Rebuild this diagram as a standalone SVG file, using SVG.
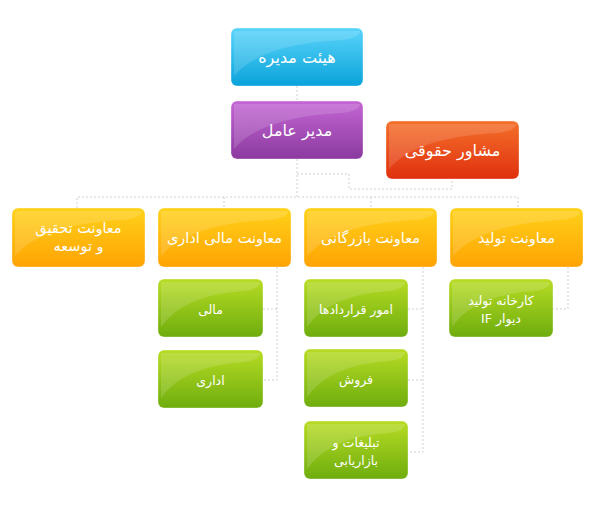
<svg xmlns="http://www.w3.org/2000/svg" width="603" height="515" viewBox="0 0 603 515">
<defs>
<linearGradient id="gBlue" x1="0" y1="0" x2="0" y2="1"><stop offset="0" stop-color="#5ad4fa"/><stop offset="1" stop-color="#0aa3db"/></linearGradient>
<linearGradient id="gPurple" x1="0" y1="0" x2="0" y2="1"><stop offset="0" stop-color="#c466d4"/><stop offset="1" stop-color="#8b3a9f"/></linearGradient>
<linearGradient id="gRed" x1="0" y1="0" x2="0" y2="1"><stop offset="0" stop-color="#f4702a"/><stop offset="1" stop-color="#e0300f"/></linearGradient>
<linearGradient id="gYellow" x1="0" y1="0" x2="0" y2="1"><stop offset="0" stop-color="#ffd21a"/><stop offset="1" stop-color="#ffa303"/></linearGradient>
<linearGradient id="gGreen" x1="0" y1="0" x2="0" y2="1"><stop offset="0" stop-color="#b8dc24"/><stop offset="1" stop-color="#6ead0e"/></linearGradient>
</defs>
<style>
.box{stroke:#ffffff;stroke-opacity:.35;stroke-width:1}
.gloss{fill:#ffffff;fill-opacity:.14}
.t{font-family:"DejaVu Sans",sans-serif;fill:#ffffff;text-anchor:middle;direction:rtl}
.top{font-size:16px}
.big{font-size:14.5px}
.sm{font-size:12.5px}
.c{fill:none;stroke:#cfcfcf;stroke-width:1;stroke-dasharray:2,2}
</style>
<g id="connectors">
<path class="c" d="M297,86V101"/>
<path class="c" d="M297,159V197"/>
<path class="c" d="M297,174H349V189H452V179"/>
<path class="c" d="M77,208V197H518V208"/>
<path class="c" d="M224,197V208"/>
<path class="c" d="M371,197V208"/>
<path class="c" d="M277,267V380H263M263,309H277"/>
<path class="c" d="M423,267V452H408M408,309H423M408,380H423"/>
<path class="c" d="M568,267V309H553"/>
</g>
<g id="board" transform="translate(231,28)">
<rect class="box" width="132" height="58" rx="6" fill="url(#gBlue)"/>
<path class="gloss" d="M3,3H129Q129,10 110,12Q30,16 3,48Z"/>
<text class="t top" x="66" y="35">هیئت مدیره</text>
</g>
<g id="ceo" transform="translate(231,101)">
<rect class="box" width="132" height="58" rx="6" fill="url(#gPurple)"/>
<path class="gloss" d="M3,3H129Q129,10 110,12Q30,16 3,48Z"/>
<text class="t top" x="66" y="35">مدیر عامل</text>
</g>
<g id="legal" transform="translate(386,121)">
<rect class="box" width="133" height="58" rx="6" fill="url(#gRed)"/>
<path class="gloss" d="M3,3H130Q130,10 111,12Q30,16 3,48Z"/>
<text class="t top" x="66.5" y="35">مشاور حقوقی</text>
</g>
<g id="rnd" transform="translate(12,208)">
<rect class="box" width="133" height="59" rx="6" fill="url(#gYellow)"/>
<path class="gloss" d="M3,3H130Q130,10 111,12Q30,16 3,48Z"/>
<text class="t big" x="66.5" y="25">معاونت تحقیق</text>
<text class="t big" x="66.5" y="43">و توسعه</text>
</g>
<g id="finance" transform="translate(158,208)">
<rect class="box" width="133" height="59" rx="6" fill="url(#gYellow)"/>
<path class="gloss" d="M3,3H130Q130,10 111,12Q30,16 3,48Z"/>
<text class="t big" x="66.5" y="35">معاونت مالی اداری</text>
</g>
<g id="commerce" transform="translate(304,208)">
<rect class="box" width="133" height="59" rx="6" fill="url(#gYellow)"/>
<path class="gloss" d="M3,3H130Q130,10 111,12Q30,16 3,48Z"/>
<text class="t big" x="66.5" y="35">معاونت بازرگانی</text>
</g>
<g id="production" transform="translate(450,208)">
<rect class="box" width="133" height="59" rx="6" fill="url(#gYellow)"/>
<path class="gloss" d="M3,3H130Q130,10 111,12Q30,16 3,48Z"/>
<text class="t big" x="66.5" y="35">معاونت تولید</text>
</g>
<g id="mali" transform="translate(158,279)">
<rect class="box" width="105" height="58" rx="6" fill="url(#gGreen)"/>
<path class="gloss" d="M3,3H102Q102,10 86,12Q25,16 3,48Z"/>
<text class="t sm" x="52.5" y="35">مالی</text>
</g>
<g id="edari" transform="translate(158,350)">
<rect class="box" width="105" height="58" rx="6" fill="url(#gGreen)"/>
<path class="gloss" d="M3,3H102Q102,10 86,12Q25,16 3,48Z"/>
<text class="t sm" x="52.5" y="35">اداری</text>
</g>
<g id="contracts" transform="translate(304,279)">
<rect class="box" width="104" height="58" rx="6" fill="url(#gGreen)"/>
<path class="gloss" d="M3,3H101Q101,10 85,12Q25,16 3,48Z"/>
<text class="t sm" x="52" y="35">امور قراردادها</text>
</g>
<g id="sales" transform="translate(304,349)">
<rect class="box" width="104" height="58" rx="6" fill="url(#gGreen)"/>
<path class="gloss" d="M3,3H101Q101,10 85,12Q25,16 3,48Z"/>
<text class="t sm" x="52" y="35">فروش</text>
</g>
<g id="marketing" transform="translate(304,421)">
<rect class="box" width="104" height="58" rx="6" fill="url(#gGreen)"/>
<path class="gloss" d="M3,3H101Q101,10 85,12Q25,16 3,48Z"/>
<text class="t sm" x="52" y="26">تبلیغات و</text>
<text class="t sm" x="52" y="44">بازاریابی</text>
</g>
<g id="factory" transform="translate(449,279)">
<rect class="box" width="104" height="58" rx="6" fill="url(#gGreen)"/>
<path class="gloss" d="M3,3H101Q101,10 85,12Q25,16 3,48Z"/>
<text class="t sm" x="52" y="26">کارخانه تولید</text>
<text class="t sm" x="52" y="44">دیوار IF</text>
</g>
</svg>
